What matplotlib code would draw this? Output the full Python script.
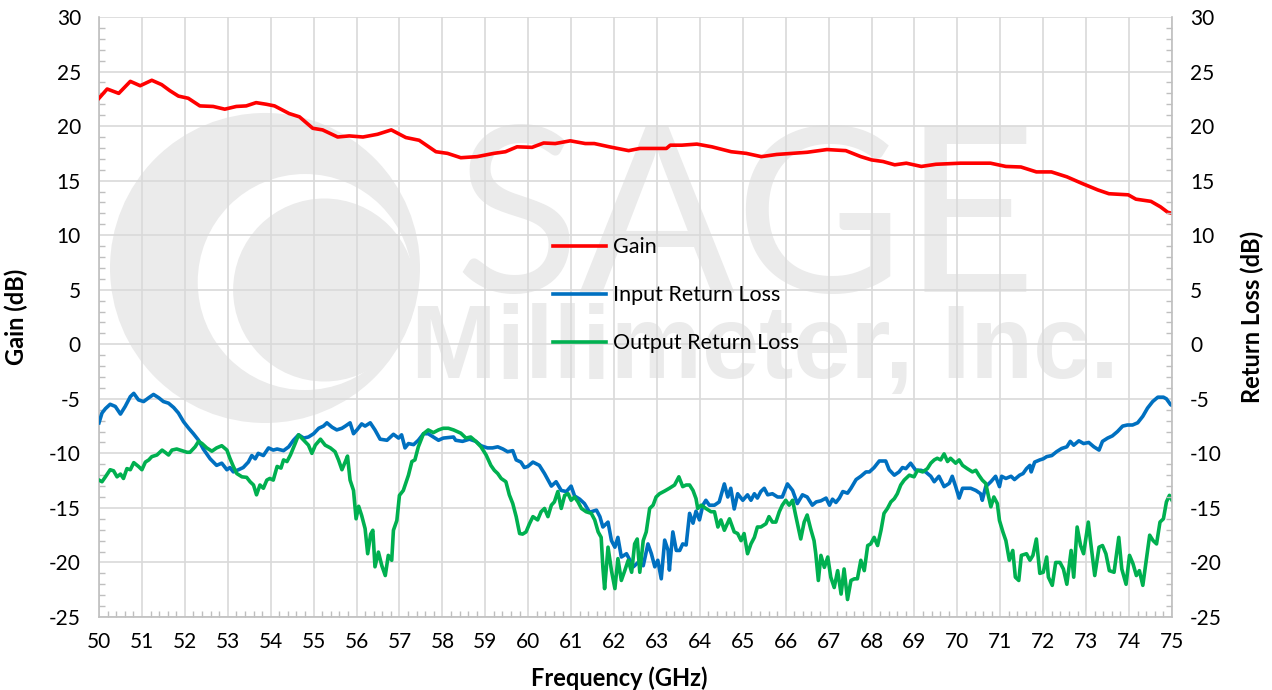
import matplotlib
matplotlib.use("Agg")
import matplotlib.pyplot as plt
from matplotlib.ticker import MultipleLocator
from matplotlib.patches import Ellipse

# Gain (dB) vs frequency (GHz)
freq_gain = [50.0, 50.19, 50.46, 50.73, 50.96, 51.23, 51.46, 51.65, 51.85, 52.08,
             52.35, 52.66, 52.93, 53.2, 53.43, 53.66, 53.9, 54.09, 54.43, 54.67,
             54.98, 55.21, 55.56, 55.83, 56.15, 56.49, 56.81, 57.15, 57.46, 57.85,
             58.12, 58.43, 58.81, 59.2, 59.47, 59.74, 60.09, 60.36, 60.63, 60.98,
             61.33, 61.54, 61.89, 62.34, 62.6, 62.96, 63.22, 63.31, 63.58, 63.93,
             64.28, 64.73, 65.08, 65.43, 65.79, 66.15, 66.5, 66.96, 67.4, 67.75,
             68.0, 68.27, 68.54, 68.81, 69.16, 69.5, 70.07, 70.5, 70.77, 71.13,
             71.48, 71.84, 72.19, 72.55, 72.9, 73.27, 73.53, 73.98, 74.16, 74.51,
             74.73, 74.9, 75.0]
gain_db = [22.55, 23.4, 23.0, 24.1, 23.7, 24.2, 23.8, 23.25, 22.75, 22.55,
           21.85, 21.8, 21.55, 21.8, 21.85, 22.15, 22.0, 21.85, 21.15, 20.85,
           19.8, 19.65, 19.0, 19.1, 19.0, 19.25, 19.65, 18.95, 18.7, 17.65,
           17.5, 17.1, 17.2, 17.5, 17.65, 18.1, 18.05, 18.45, 18.4, 18.65,
           18.4, 18.4, 18.1, 17.75, 17.95, 17.95, 17.95, 18.25, 18.25, 18.35,
           18.1, 17.65, 17.5, 17.2, 17.4, 17.5, 17.6, 17.85, 17.75, 17.2,
           16.9, 16.75, 16.45, 16.6, 16.3, 16.5, 16.6, 16.6, 16.6, 16.3,
           16.25, 15.8, 15.8, 15.35, 14.75, 14.15, 13.8, 13.7, 13.3, 13.1,
           12.6, 12.1, 12.0]

# Input return loss (dB)
freq_irl = [50.0, 50.07, 50.15, 50.26, 50.38, 50.5, 50.61, 50.73, 50.81, 50.92,
            51.04, 51.16, 51.27, 51.39, 51.5, 51.62, 51.74, 51.85, 51.97, 52.09,
            52.2, 52.32, 52.43, 52.59, 52.74, 52.86, 52.98, 53.05, 53.13, 53.25,
            53.36, 53.48, 53.56, 53.64, 53.71, 53.83, 53.95, 54.06, 54.15, 54.3,
            54.42, 54.53, 54.65, 54.77, 54.88, 55.0, 55.12, 55.23, 55.31, 55.43,
            55.54, 55.66, 55.74, 55.85, 55.93, 56.01, 56.12, 56.2, 56.32, 56.43,
            56.55, 56.71, 56.86, 56.98, 57.05, 57.13, 57.21, 57.33, 57.44, 57.56,
            57.67, 57.79, 57.91, 58.02, 58.14, 58.26, 58.31, 58.47, 58.63, 58.78,
            58.9, 59.05, 59.17, 59.29, 59.41, 59.52, 59.64, 59.72, 59.83, 59.91,
            59.99, 60.11, 60.26, 60.38, 60.54, 60.65, 60.77, 60.89, 61.0, 61.08,
            61.2, 61.31, 61.43, 61.59, 61.67, 61.74, 61.86, 61.94, 62.02, 62.09,
            62.17, 62.29, 62.37, 62.45, 62.56, 62.68, 62.79, 62.87, 62.95, 63.02,
            63.1, 63.18, 63.26, 63.29, 63.37, 63.45, 63.53, 63.6, 63.68, 63.76,
            63.84, 63.91, 63.99, 64.07, 64.14, 64.22, 64.34, 64.45, 64.57, 64.65,
            64.72, 64.8, 64.88, 65.0, 65.11, 65.19, 65.27, 65.34, 65.42, 65.5,
            65.58, 65.69, 65.81, 65.92, 66.04, 66.16, 66.27, 66.39, 66.5, 66.62,
            66.71, 66.82, 66.94, 67.02, 67.09, 67.17, 67.25, 67.33, 67.44, 67.52,
            67.64, 67.75, 67.87, 67.95, 68.06, 68.18, 68.33, 68.41, 68.53, 68.64,
            68.72, 68.8, 68.91, 69.03, 69.15, 69.26, 69.38, 69.46, 69.57, 69.69,
            69.81, 69.88, 69.96, 70.04, 70.12, 70.23, 70.31, 70.43, 70.54, 70.58,
            70.66, 70.78, 70.89, 70.98, 71.03, 71.13, 71.25, 71.33, 71.45, 71.53,
            71.61, 71.69, 71.72, 71.8, 71.92, 72.0, 72.08, 72.2, 72.31, 72.43,
            72.55, 72.63, 72.71, 72.83, 72.94, 73.06, 73.18, 73.3, 73.38, 73.5,
            73.61, 73.73, 73.85, 73.96, 74.08, 74.2, 74.32, 74.43, 74.55, 74.67,
            74.8, 74.87, 74.97, 75.0]
irl_db = [-7.2, -6.3, -5.9, -5.5, -5.7, -6.4, -5.7, -4.8, -4.5, -5.1,
          -5.25, -4.9, -4.6, -4.9, -5.25, -5.4, -5.8, -6.3, -7.1, -7.7,
          -8.2, -8.8, -9.6, -10.5, -11.1, -10.9, -11.5, -11.3, -11.7, -11.5,
          -11.3, -10.8, -10.2, -10.5, -10.0, -10.2, -9.5, -9.7, -9.6, -9.75,
          -9.4, -8.8, -8.3, -8.6, -8.5, -8.2, -7.7, -7.5, -7.2, -7.6,
          -7.85, -7.7, -7.5, -7.2, -8.2, -7.85, -7.3, -7.5, -7.2, -7.85,
          -8.7, -8.8, -8.25, -8.6, -8.3, -9.5, -9.1, -9.2, -8.8, -8.2,
          -8.2, -8.5, -8.8, -8.6, -8.55, -8.5, -8.8, -8.9, -8.7, -8.9,
          -9.3, -9.5, -9.5, -9.4, -9.6, -9.85, -9.75, -10.6, -10.8, -11.3,
          -11.2, -10.8, -11.1, -11.85, -13.0, -12.6, -13.4, -13.5, -13.0, -13.9,
          -14.2, -14.6, -15.4, -15.2, -15.8, -16.75, -16.3, -18.0, -18.6, -17.7,
          -19.5, -19.2, -19.8, -20.4, -20.0, -20.3, -18.3, -19.2, -20.4, -19.8,
          -21.5, -17.95, -18.9, -20.7, -17.2, -18.9, -18.9, -18.3, -18.4, -15.5,
          -16.4, -15.3, -16.1, -14.75, -14.3, -14.75, -14.75, -14.45, -12.8, -14.0,
          -13.2, -15.1, -13.7, -14.3, -13.8, -14.3, -13.7, -14.1, -13.5, -13.2,
          -13.8, -13.7, -14.0, -14.0, -12.8, -13.4, -14.6, -13.8, -14.0, -14.75,
          -14.45, -14.35, -14.1, -14.75, -14.2, -14.5, -14.1, -13.5, -13.65, -13.2,
          -12.4, -12.1, -11.7, -11.7, -11.3, -10.7, -10.7, -11.5, -12.0, -11.7,
          -11.3, -11.4, -10.9, -11.55, -11.55, -11.7, -12.1, -12.6, -12.1, -13.05,
          -12.75, -12.1, -13.05, -14.1, -13.2, -13.2, -13.2, -13.4, -13.7, -14.3,
          -13.05, -12.6, -12.1, -13.05, -12.1, -12.3, -12.1, -12.4, -12.0, -11.85,
          -11.4, -11.1, -11.7, -10.8, -10.6, -10.5, -10.3, -10.2, -9.85, -9.55,
          -9.4, -8.9, -9.25, -8.85, -9.1, -9.0, -9.4, -9.7, -8.9, -8.6,
          -8.4, -8.0, -7.5, -7.4, -7.4, -7.2, -6.6, -5.85, -5.25, -4.85,
          -4.85, -5.0, -5.55, -5.6]

# Output return loss (dB)
freq_orl = [50.0, 50.07, 50.15, 50.26, 50.34, 50.42, 50.5, 50.57, 50.65, 50.73,
            50.81, 50.92, 51.0, 51.08, 51.16, 51.23, 51.35, 51.47, 51.54, 51.62,
            51.7, 51.81, 51.93, 52.05, 52.12, 52.24, 52.32, 52.4, 52.51, 52.63,
            52.74, 52.86, 52.98, 53.05, 53.13, 53.21, 53.33, 53.44, 53.52, 53.6,
            53.67, 53.75, 53.83, 53.91, 53.98, 54.06, 54.15, 54.24, 54.3, 54.38,
            54.46, 54.57, 54.65, 54.77, 54.88, 54.96, 55.04, 55.16, 55.27, 55.39,
            55.5, 55.58, 55.66, 55.74, 55.79, 55.85, 55.93, 55.99, 56.05, 56.12,
            56.2, 56.26, 56.33, 56.38, 56.43, 56.51, 56.59, 56.67, 56.74, 56.82,
            56.86, 56.94, 57.0, 57.09, 57.21, 57.29, 57.36, 57.44, 57.56, 57.67,
            57.79, 57.91, 58.02, 58.14, 58.26, 58.43, 58.55, 58.66, 58.78, 58.9,
            59.02, 59.13, 59.21, 59.29, 59.37, 59.48, 59.56, 59.64, 59.72, 59.8,
            59.87, 59.95, 60.03, 60.11, 60.22, 60.3, 60.38, 60.46, 60.54, 60.61,
            60.69, 60.77, 60.85, 60.93, 61.0, 61.08, 61.16, 61.24, 61.35, 61.47,
            61.55, 61.63, 61.7, 61.74, 61.78, 61.86, 61.94, 62.02, 62.09, 62.17,
            62.25, 62.33, 62.41, 62.48, 62.54, 62.6, 62.68, 62.75, 62.83, 62.91,
            62.98, 63.06, 63.18, 63.29, 63.41, 63.51, 63.6, 63.68, 63.76, 63.84,
            63.91, 63.95, 64.03, 64.14, 64.26, 64.34, 64.42, 64.49, 64.57, 64.69,
            64.8, 64.88, 64.96, 65.03, 65.11, 65.19, 65.27, 65.34, 65.42, 65.54,
            65.61, 65.69, 65.77, 65.85, 65.92, 66.0, 66.08, 66.16, 66.23, 66.35,
            66.43, 66.5, 66.58, 66.66, 66.7, 66.76, 66.82, 66.9, 66.98, 67.05,
            67.13, 67.21, 67.29, 67.36, 67.44, 67.52, 67.6, 67.67, 67.75, 67.83,
            67.91, 67.98, 68.06, 68.14, 68.22, 68.29, 68.37, 68.45, 68.53, 68.6,
            68.68, 68.76, 68.88, 68.99, 69.07, 69.19, 69.3, 69.38, 69.46, 69.53,
            69.61, 69.69, 69.77, 69.84, 69.96, 70.04, 70.12, 70.23, 70.35, 70.43,
            70.5, 70.58, 70.66, 70.72, 70.78, 70.85, 70.93, 70.98, 71.06, 71.13,
            71.21, 71.29, 71.35, 71.43, 71.49, 71.61, 71.69, 71.76, 71.84, 71.92,
            72.0, 72.08, 72.12, 72.21, 72.29, 72.39, 72.47, 72.55, 72.65, 72.71,
            72.79, 72.87, 72.94, 73.05, 73.1, 73.2, 73.3, 73.38, 73.46, 73.54,
            73.65, 73.76, 73.83, 73.93, 74.01, 74.09, 74.17, 74.24, 74.32, 74.4,
            74.48, 74.56, 74.64, 74.72, 74.8, 74.87, 74.94, 75.0]
orl_db = [-12.45, -12.6, -12.15, -11.5, -11.6, -12.15, -11.9, -12.3, -11.4, -11.5,
          -10.85, -11.2, -11.5, -10.8, -10.6, -10.3, -10.15, -9.7, -9.9, -10.15,
          -9.7, -9.6, -9.75, -9.9, -9.9, -9.4, -8.9, -9.1, -9.5, -9.8,
          -9.5, -9.3, -9.7, -10.45, -11.2, -11.85, -12.15, -12.2, -12.6, -12.9,
          -13.8, -12.9, -13.2, -12.45, -12.3, -12.45, -11.2, -11.35, -10.6, -10.75,
          -10.15, -9.1, -8.3, -8.8, -9.25, -10.0, -9.25, -8.7, -9.25, -9.5,
          -9.85, -10.6, -11.5, -10.75, -10.25, -12.45, -13.4, -16.0, -14.85, -15.7,
          -16.9, -19.2, -17.4, -17.05, -20.4, -19.05, -20.3, -21.2, -19.35, -19.8,
          -17.05, -16.15, -13.85, -13.4, -12.0, -10.75, -10.6, -9.4, -8.2, -7.85,
          -8.1, -7.85, -7.7, -7.7, -7.85, -8.15, -8.6, -8.5, -8.9, -9.4,
          -10.15, -11.1, -11.55, -11.85, -12.3, -12.6, -13.8, -14.6, -15.8, -17.35,
          -17.4, -17.2, -16.45, -15.8, -16.1, -15.35, -15.05, -15.8, -14.75, -14.45,
          -13.5, -15.05, -13.85, -13.7, -14.3, -14.0, -14.45, -15.05, -15.35, -15.5,
          -16.1, -17.2, -17.7, -20.45, -22.4, -18.6, -20.75, -22.4, -19.65, -21.65,
          -20.75, -19.8, -20.9, -18.3, -17.85, -20.9, -18.0, -17.2, -15.05, -14.75,
          -14.0, -13.7, -13.45, -13.2, -12.9, -12.15, -13.05, -12.9, -12.9, -13.4,
          -14.15, -15.05, -14.75, -15.05, -15.35, -15.35, -16.75, -16.1, -17.05, -16.0,
          -17.2, -17.35, -18.0, -17.35, -19.2, -18.3, -17.7, -16.75, -16.75, -16.45,
          -15.8, -16.3, -16.3, -15.35, -14.75, -14.3, -14.75, -14.3, -15.65, -17.85,
          -16.3, -15.65, -16.9, -18.0, -19.2, -21.65, -19.35, -20.45, -19.5, -21.35,
          -22.3, -20.75, -22.9, -20.6, -23.4, -21.65, -21.5, -21.5, -19.8, -20.75,
          -18.45, -18.3, -17.7, -18.45, -17.05, -15.5, -15.05, -14.45, -14.15, -13.7,
          -12.9, -12.45, -12.0, -12.15, -11.55, -11.7, -11.4, -10.9, -10.6, -10.45,
          -10.6, -10.05, -10.75, -10.45, -10.9, -10.6, -11.1, -11.4, -11.7, -11.55,
          -12.0, -12.45, -12.75, -13.85, -14.9, -14.0, -14.6, -16.15, -17.2, -18.0,
          -19.8, -18.9, -21.35, -21.65, -19.35, -19.2, -19.8, -19.35, -17.85, -21.0,
          -20.9, -19.5, -21.35, -22.1, -20.0, -20.0, -20.6, -22.0, -18.9, -21.35,
          -16.75, -18.45, -19.2, -16.3, -18.0, -21.2, -18.6, -18.45, -19.2, -20.75,
          -20.9, -17.7, -20.6, -22.0, -19.35, -20.1, -21.2, -20.75, -22.1, -19.8,
          -17.5, -18.0, -18.3, -16.3, -16.0, -14.45, -13.85, -14.3]

font_main = ["Lato", "DejaVu Sans"]
plt.rcParams['font.family'] = font_main
plt.rcParams['axes.unicode_minus'] = False

fig = plt.figure(figsize=(12.72, 6.9), dpi=100)
ax = fig.add_axes([99 / 1272, 1 - 617 / 690, 1073 / 1272, 600 / 690])
ax2 = ax.twinx()

grid_col = "#d9d9d9"
spine_col = "#bfbfbf"
wm_col = "#ebebeb"

# watermark: logo disc + company name
ax.add_patch(Ellipse((0.1547, 0.5817), 0.2889, 0.5167, transform=ax.transAxes,
                     facecolor=wm_col, edgecolor="none", zorder=0))
ax.add_patch(Ellipse((0.1920, 0.5583), 0.2000, 0.3600, transform=ax.transAxes,
                     facecolor="white", edgecolor="none", zorder=0))
ax.add_patch(Ellipse((0.2100, 0.5450), 0.1700, 0.3050, transform=ax.transAxes,
                     facecolor=wm_col, edgecolor="none", zorder=0))
ax.text(0.603, 0.65, "SAGE", transform=ax.transAxes, ha="center", va="center",
        fontsize=166, fontweight="normal", color=wm_col, zorder=0,
        family=["Lato", "DejaVu Sans"])
ax.text(0.621, 0.442, "Millimeter, Inc.", transform=ax.transAxes, ha="center",
        va="center", fontsize=74, fontweight="bold", color=wm_col, zorder=0,
        family=["Liberation Sans", "DejaVu Sans"])

ax.plot(freq_gain, gain_db, color="#ff0000", lw=2.6, label="Gain", zorder=3)
ax.plot(freq_irl, irl_db, color="#0070c0", lw=2.6, label="Input Return Loss", zorder=3)
ax.plot(freq_orl, orl_db, color="#00b050", lw=2.6, label="Output Return Loss", zorder=3)

for a in (ax, ax2):
    a.set_xlim(50, 75)
    a.set_ylim(-25, 30)
    a.yaxis.set_major_locator(MultipleLocator(5))
    a.yaxis.set_minor_locator(MultipleLocator(1))
    for s in a.spines.values():
        s.set_visible(False)

ax.xaxis.set_major_locator(MultipleLocator(1))
ax.xaxis.set_minor_locator(MultipleLocator(0.2))
ax.grid(True, which="major", color=grid_col, lw=1.2)
ax.set_axisbelow(True)

ax.spines["left"].set_visible(True)
ax.spines["bottom"].set_visible(True)
ax.spines["left"].set_color(spine_col)
ax.spines["bottom"].set_color(spine_col)
ax2.spines["right"].set_visible(True)
ax2.spines["right"].set_color(spine_col)
for s in ("left", "bottom"):
    ax.spines[s].set_linewidth(1.2)
ax2.spines["right"].set_linewidth(1.2)

ax.tick_params(axis="both", which="major", length=0, labelsize=15, pad=13)
ax.tick_params(axis="x", which="major", pad=11)
ax.tick_params(axis="both", which="minor", direction="in", length=4.5,
               color=spine_col, width=1)
ax2.tick_params(axis="y", which="major", length=0, labelsize=15, pad=13)
ax2.tick_params(axis="y", which="minor", direction="in", length=4.5,
                color=spine_col, width=1)

ax.set_xlabel("Frequency (GHz)", fontsize=17, fontweight="bold")
ax.xaxis.set_label_coords(0.485, -0.082)
ax.set_ylabel("Gain (dB)", fontsize=17, fontweight="bold")
ax.yaxis.set_label_coords(-0.066, 0.5)
ax2.set_ylabel("Return Loss (dB)", fontsize=17, fontweight="bold")
ax2.yaxis.set_label_coords(1.064, 0.5)

ax.legend(loc="center left", bbox_to_anchor=(0.423, 0.536), frameon=False,
          fontsize=15.5, handlelength=2.45, handletextpad=0.33, labelspacing=1.3,
          borderpad=0, borderaxespad=0)

fig.savefig("out.png", dpi=100)
